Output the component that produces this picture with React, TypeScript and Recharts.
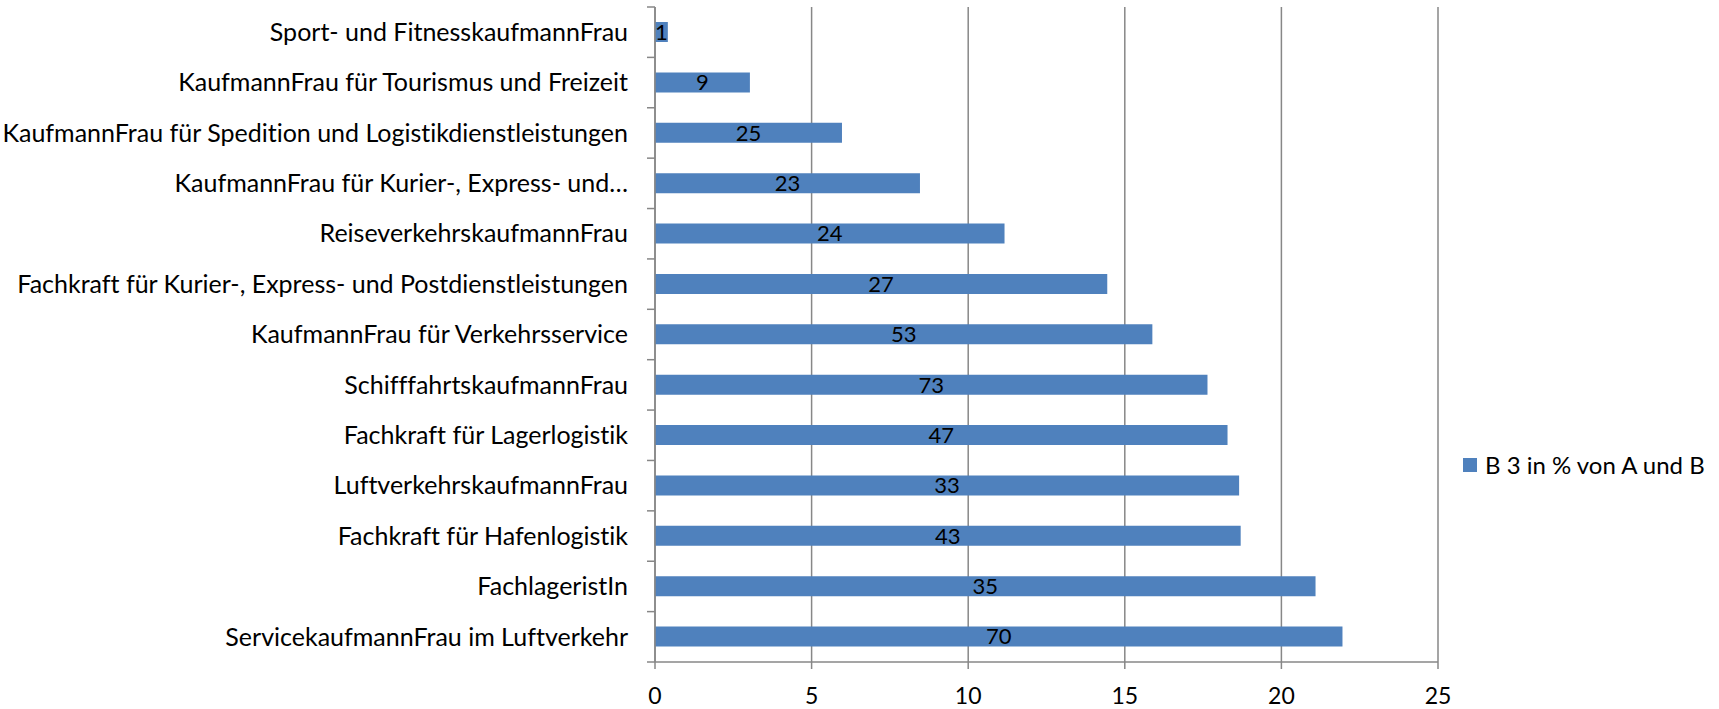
import React from 'react';
import { BarChart, Bar, XAxis, YAxis, CartesianGrid, Legend, LabelList } from 'recharts';

const categories = [
  'Sport- und FitnesskaufmannFrau',
  'KaufmannFrau für Tourismus und Freizeit',
  'KaufmannFrau für Spedition und Logistikdienstleistungen',
  'KaufmannFrau für Kurier-, Express- und…',
  'ReiseverkehrskaufmannFrau',
  'Fachkraft für Kurier-, Express- und Postdienstleistungen',
  'KaufmannFrau für Verkehrsservice',
  'SchifffahrtskaufmannFrau',
  'Fachkraft für Lagerlogistik',
  'LuftverkehrskaufmannFrau',
  'Fachkraft für Hafenlogistik',
  'FachlageristIn',
  'ServicekaufmannFrau im Luftverkehr',
];

// bar length: B 3 in % von A und B
const shares = [0.41, 3.03, 5.97, 8.46, 11.16, 14.44, 15.88, 17.64, 18.28, 18.65, 18.7, 21.09, 21.95];
// numbers printed inside the bars
const counts = [1, 9, 25, 23, 24, 27, 53, 73, 47, 33, 43, 35, 70];

const xTicks = [0, 5, 10, 15, 20, 25];
const seriesName = 'B 3 in % von A und B';

const data = categories.map((name, i) => ({ name, share: shares[i], count: counts[i] }));

const FONT = 'Lato, "Open Sans", sans-serif';
const GRID = '#878787';
const BLUE = '#4F81BD';

const PLOT_TOP = 7;
const PLOT_BOTTOM = 662;
const BAND = (PLOT_BOTTOM - PLOT_TOP) / categories.length;

function CategoryTick(props: any) {
  const { x, y, payload, index } = props;
  const axisX = x + 27;
  return (
    <g>
      <line x1={axisX - 8} x2={axisX} y1={y - BAND / 2} y2={y - BAND / 2} stroke={GRID} strokeWidth={1.5} />
      {index === categories.length - 1 && (
        <line x1={axisX - 8} x2={axisX} y1={y + BAND / 2} y2={y + BAND / 2} stroke={GRID} strokeWidth={1.5} />
      )}
      <text
        x={x}
        y={y}
        dy="0.35em"
        textAnchor="end"
        fill="#000"
        fontSize={25}
        fontFamily={FONT}
        style={{ fontVariantLigatures: 'none' }}
      >
        {payload.value}
      </text>
    </g>
  );
}

function LegendBox() {
  return (
    <div style={{ display: 'flex', alignItems: 'center', fontFamily: FONT, fontSize: 24, color: '#000', whiteSpace: 'nowrap' }}>
      <span style={{ display: 'inline-block', width: 14, height: 14, background: BLUE, marginRight: 8 }} />
      {seriesName}
    </div>
  );
}

export default function App() {
  return (
    <div style={{ position: 'absolute', left: 0, top: 0, width: 1719, height: 709, background: '#fff' }}>
      <BarChart
        width={1719}
        height={709}
        data={data}
        layout="vertical"
        margin={{ top: PLOT_TOP, right: 281, left: 0, bottom: 0 }}
      >
        <CartesianGrid horizontal={false} vertical stroke={GRID} strokeWidth={1.5} />
        <XAxis
          type="number"
          domain={[0, 25]}
          ticks={xTicks}
          height={47}
          tickSize={7}
          tickMargin={19}
          axisLine={{ stroke: GRID, strokeWidth: 1.5 }}
          tickLine={{ stroke: GRID, strokeWidth: 1.5 }}
          tick={{ fill: '#000', fontSize: 23, fontFamily: FONT }}
        />
        <YAxis
          type="category"
          dataKey="name"
          width={655}
          interval={0}
          tickSize={8}
          tickMargin={19}
          tickLine={false}
          axisLine={{ stroke: GRID, strokeWidth: 1.5 }}
          tick={<CategoryTick />}
        />
        <Legend
          layout="horizontal"
          align="center"
          verticalAlign="middle"
          wrapperStyle={{ left: 1463, top: 450, width: 'auto' }}
          content={() => <LegendBox />}
        />
        <Bar dataKey="share" name={seriesName} fill={BLUE} barSize={20} isAnimationActive={false}>
          <LabelList dataKey="count" position="center" fill="#000" fontSize={22} fontFamily={FONT} />
        </Bar>
      </BarChart>
    </div>
  );
}
